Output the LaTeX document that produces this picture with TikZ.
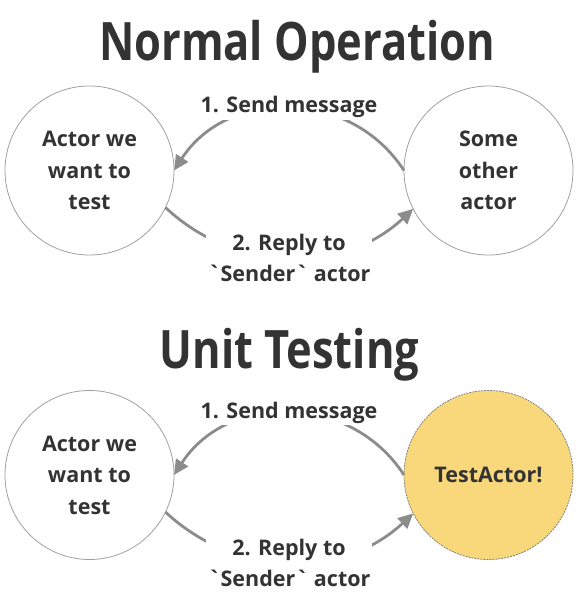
\documentclass[tikz,border=0pt]{standalone}
\usepackage{fontspec}
\setmainfont{Open Sans}[Ligatures=TeXOff]
\newfontfamily\titleface{Open Sans}[FakeStretch=0.82]
\usetikzlibrary{arrows.meta}
\definecolor{txt}{HTML}{333333}
\definecolor{arrowgray}{HTML}{8C8C8C}
\definecolor{ringgray}{HTML}{A0A0A0}
\definecolor{testfill}{HTML}{F9D77B}
\newcommand{\bodyfnt}{\fontsize{21.5}{31.5}\selectfont\bfseries}
\newcommand{\titlefnt}{\titleface\fontsize{53}{60}\selectfont\bfseries}
\begin{document}
\begin{tikzpicture}[x=1pt,y=1pt,
  actor/.style={circle, draw=ringgray, line width=0.8pt, minimum size=169pt,
    inner sep=0pt, outer sep=0pt, align=center, font=\bodyfnt, text=txt},
  testactor/.style={actor, fill=testfill, draw=gray, dash pattern=on 2pt off 1pt},
  msg/.style={-{Triangle[length=15pt,width=14pt]}, draw=arrowgray, line width=2.8pt},
  lbl/.style={fill=white, inner sep=2pt, align=center, font=\bodyfnt, text=txt},
  heading/.style={font=\titlefnt, text=txt, inner sep=0pt, anchor=base}]
\useasboundingbox (0,0) rectangle (577,-596);
% Normal operation
\node[heading] (t1) at (297,-61) {Normal Operation};
\node[actor] (a1) at (89.5,-170.5) {Actor we\\want to\\test};
\node[actor] (b1) at (488.5,-170.5) {Some\\other\\actor};
\draw[msg] (b1.west) to[out=123,in=57,looseness=1.1] (a1.east);
\draw[msg] (a1.-26) to[out=-43,in=-137] (b1.-153);
\node[lbl, anchor=base] (m1) at (289,-113) {1. Send message};
\node[lbl] (r1) at (289,-258) {2. Reply to\\`Sender` actor};
% Unit testing
\node[heading] (t2) at (289.5,-368.5) {Unit Testing};
\node[actor] (a2) at (89.5,-475) {Actor we\\want to\\test};
\node[testactor] (b2) at (488.5,-475) {TestActor!};
\draw[msg] (b2.west) to[out=123,in=57,looseness=1.1] (a2.east);
\draw[msg] (a2.-26) to[out=-43,in=-137] (b2.-153);
\node[lbl, anchor=base] (m2) at (289,-418) {1. Send message};
\node[lbl] (r2) at (289,-563) {2. Reply to\\`Sender` actor};
\end{tikzpicture}
\end{document}
